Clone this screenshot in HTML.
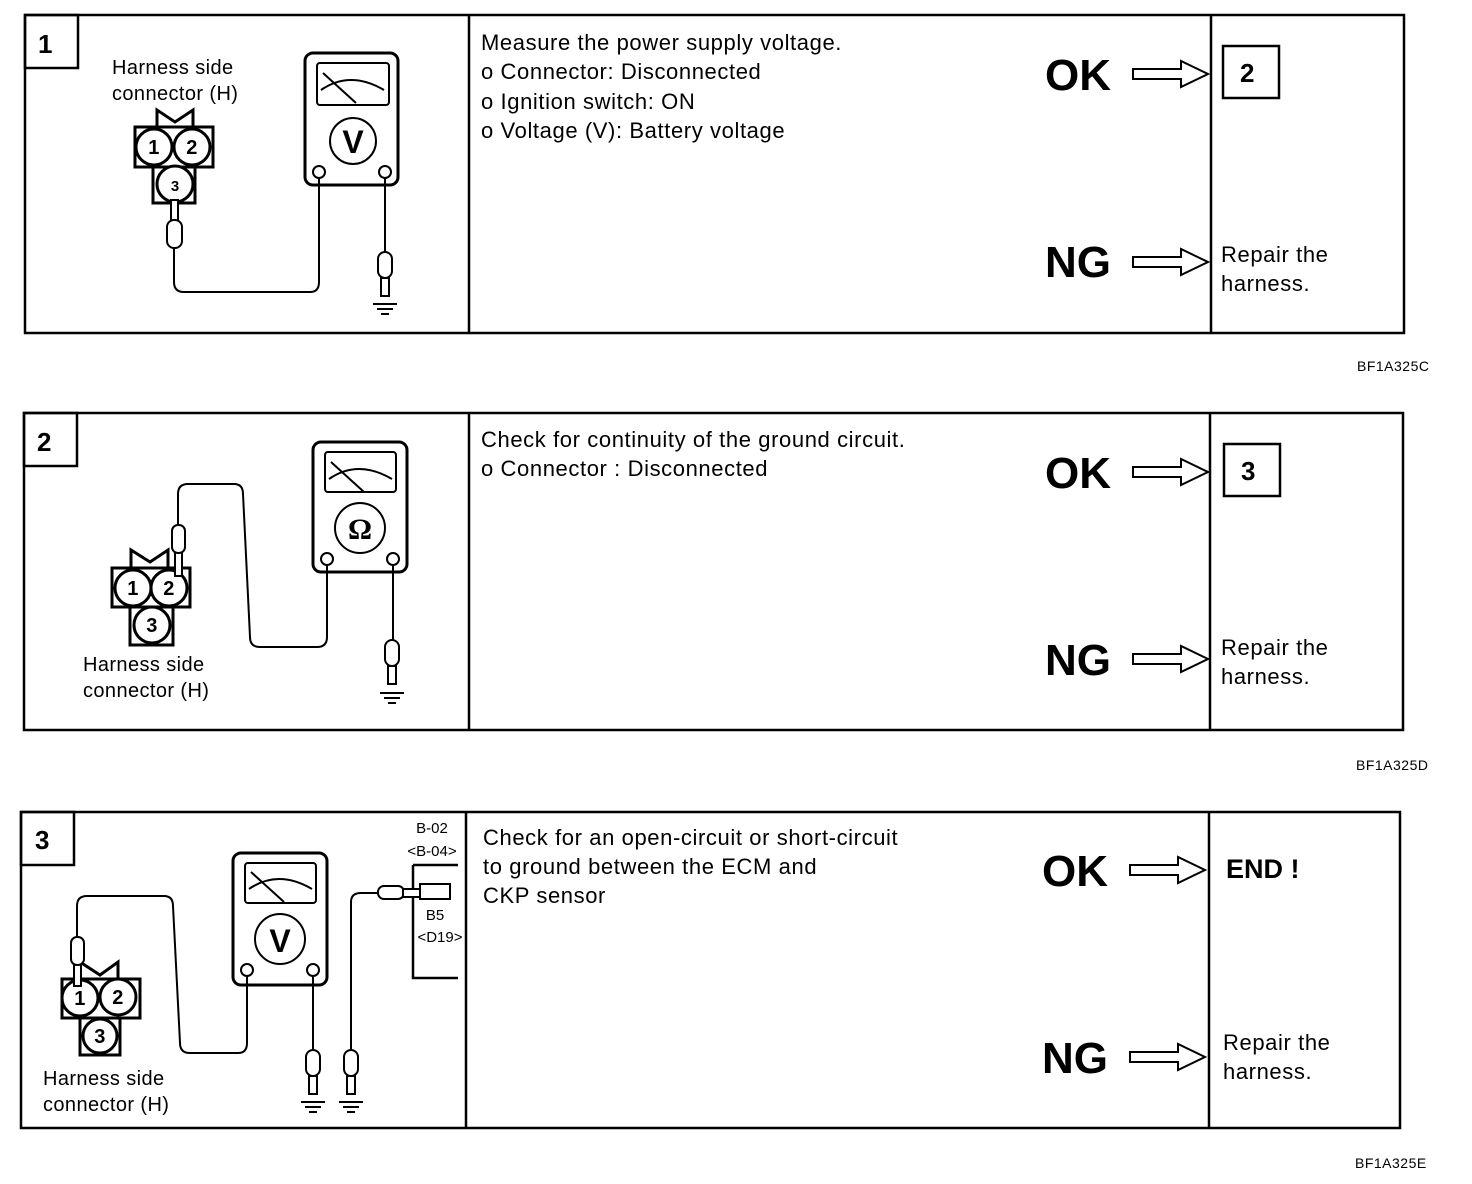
<!DOCTYPE html>
<html><head><meta charset="utf-8"><style>
html,body{margin:0;padding:0;background:#fff;}
svg{display:block;}
text{font-family:"Liberation Sans",Arial,sans-serif;fill:#000;}
.t{font-size:22px;letter-spacing:0.6px;}
.big{font-size:44px;font-weight:bold;}
.num{font-size:26px;font-weight:bold;}
.lab{font-size:20px;letter-spacing:0.4px;}
.sm{font-size:15px;}
.code{font-size:14px;letter-spacing:0.5px;}
</style></head><body>
<svg width="1472" height="1184" viewBox="0 0 1472 1184" xmlns="http://www.w3.org/2000/svg">
<defs>
<g id="arrow"><path d="M0,-5 H48 V-13 L75,0 L48,13 V5 H0 Z" fill="#fff" stroke="#000" stroke-width="2"/></g>
<g id="gnd"><line x1="-12" y1="0" x2="12" y2="0" stroke="#000" stroke-width="2"/><line x1="-8" y1="5" x2="8" y2="5" stroke="#000" stroke-width="2"/><line x1="-4" y1="10" x2="4" y2="10" stroke="#000" stroke-width="2"/></g>
<g id="probe"><rect x="-7" y="0" width="14" height="26" rx="7" fill="#fff" stroke="#000" stroke-width="2"/><rect x="-4" y="26" width="8" height="18" fill="#fff" stroke="#000" stroke-width="2"/></g>
</defs>
<g fill="none" stroke="#000" stroke-width="2.5">
<rect x="25" y="15" width="1379" height="318"/><line x1="469" y1="15" x2="469" y2="333"/><line x1="1211" y1="15" x2="1211" y2="333"/>
<rect x="24" y="413" width="1379" height="317"/><line x1="469" y1="413" x2="469" y2="730"/><line x1="1210" y1="413" x2="1210" y2="730"/>
<rect x="21" y="812" width="1379" height="316"/><line x1="466" y1="812" x2="466" y2="1128"/><line x1="1209" y1="812" x2="1209" y2="1128"/>
<rect x="25" y="15" width="53" height="53"/><rect x="24" y="413" width="53" height="53"/><rect x="21" y="812" width="53" height="53"/>
<rect x="1223" y="46" width="56" height="52"/><rect x="1224" y="444" width="56" height="52"/>
</g>
<text x="38" y="53" class="num">1</text><text x="37" y="451" class="num">2</text><text x="35" y="849" class="num">3</text>
<text x="1240" y="82" class="num">2</text><text x="1241" y="480" class="num">3</text>

<text x="481" y="50" class="t">Measure the power supply voltage.</text>
<text x="481" y="79" class="t">o Connector: Disconnected</text>
<text x="481" y="109" class="t">o Ignition switch: ON</text>
<text x="481" y="138" class="t">o Voltage (V): Battery voltage</text>
<text x="481" y="447" class="t">Check for continuity of the ground circuit.</text>
<text x="481" y="476" class="t">o Connector : Disconnected</text>
<text x="483" y="845" class="t">Check for an open-circuit or short-circuit</text>
<text x="483" y="874" class="t">to ground between the ECM and</text>
<text x="483" y="903" class="t">CKP sensor</text>

<text x="1045" y="90" class="big">OK</text><use href="#arrow" x="1133" y="74"/>
<text x="1045" y="277" class="big">NG</text><use href="#arrow" x="1133" y="262"/>
<text x="1221" y="262" class="t">Repair the</text><text x="1221" y="291" class="t">harness.</text>
<text x="1045" y="488" class="big">OK</text><use href="#arrow" x="1133" y="472"/>
<text x="1045" y="675" class="big">NG</text><use href="#arrow" x="1133" y="659"/>
<text x="1221" y="655" class="t">Repair the</text><text x="1221" y="684" class="t">harness.</text>
<text x="1042" y="886" class="big">OK</text><use href="#arrow" x="1130" y="870"/>
<text x="1226" y="878" style="font-size:27px;font-weight:bold">END !</text>
<text x="1042" y="1073" class="big">NG</text><use href="#arrow" x="1130" y="1057"/>
<text x="1223" y="1050" class="t">Repair the</text><text x="1223" y="1079" class="t">harness.</text>

<text x="1357" y="371" class="code">BF1A325C</text>
<text x="1356" y="770" class="code">BF1A325D</text>
<text x="1355" y="1168" class="code">BF1A325E</text>

<!-- Panel 1 diagram -->
<text x="112" y="74" class="lab">Harness side</text><text x="112" y="100" class="lab">connector (H)</text>
<g fill="#fff" stroke="#000" stroke-width="3">
<path d="M157,127 V110 L175,122 L193,110 V127" fill="none"/>
<rect x="135" y="127" width="78" height="40"/><rect x="153" y="167" width="42" height="36"/>
<circle cx="154" cy="147" r="18"/><circle cx="192" cy="147" r="18"/><circle cx="175" cy="184" r="18"/>
<rect x="305" y="53" width="93" height="132" rx="8"/><rect x="317" y="63" width="72" height="42" rx="3" stroke-width="2"/>
<circle cx="353" cy="141" r="23" stroke-width="2"/><circle cx="319" cy="172" r="6" stroke-width="2"/><circle cx="385" cy="172" r="6" stroke-width="2"/>
</g>
<text x="154" y="154" text-anchor="middle" class="lab" font-weight="bold">1</text><text x="192" y="154" text-anchor="middle" class="lab" font-weight="bold">2</text><text x="175" y="191" text-anchor="middle" class="sm" font-weight="bold">3</text>
<text x="353" y="153" text-anchor="middle" style="font-size:32px;font-weight:bold">V</text>
<g fill="none" stroke="#000" stroke-width="2"><path d="M323,73 L356,103 M321,90 Q350,70 384,90"/>
<path d="M174,248 V282 Q174,292 184,292 H310 Q319,292 319,282 V178"/><line x1="385" y1="178" x2="385" y2="252"/></g>
<g fill="#fff" stroke="#000" stroke-width="2"><rect x="171" y="200" width="7" height="22"/><rect x="167" y="220" width="15" height="28" rx="7"/></g>
<use href="#probe" x="385" y="252"/><use href="#gnd" x="385" y="304"/>

<!-- Panel 2 diagram -->
<text x="83" y="671" class="lab">Harness side</text><text x="83" y="697" class="lab">connector (H)</text>
<g fill="#fff" stroke="#000" stroke-width="3">
<path d="M131,568 V550 L150,562 L168,550 V568" fill="none"/>
<rect x="112" y="568" width="78" height="39"/><rect x="130" y="607" width="43" height="38"/>
<circle cx="133" cy="588" r="18"/><circle cx="169" cy="588" r="18"/><circle cx="152" cy="625" r="18"/>
<rect x="313" y="442" width="94" height="130" rx="8"/><rect x="325" y="452" width="71" height="40" rx="3" stroke-width="2"/>
<circle cx="360" cy="528" r="25" stroke-width="2"/><circle cx="327" cy="559" r="6" stroke-width="2"/><circle cx="393" cy="559" r="6" stroke-width="2"/>
</g>
<text x="133" y="595" text-anchor="middle" class="lab" font-weight="bold">1</text><text x="169" y="595" text-anchor="middle" class="lab" font-weight="bold">2</text><text x="152" y="632" text-anchor="middle" class="lab" font-weight="bold">3</text>
<text x="360" y="539" text-anchor="middle" style="font-family:'Liberation Serif',serif;font-size:30px;font-weight:bold">Ω</text>
<g fill="none" stroke="#000" stroke-width="2"><path d="M331,462 L364,492 M329,479 Q358,459 392,479"/>
<path d="M178,527 V494 Q178,484 188,484 H234 Q243,484 243,494 L250,637 Q250,647 260,647 H317 Q327,647 327,637 V565"/><line x1="393" y1="565" x2="393" y2="640"/></g>
<g fill="#fff" stroke="#000" stroke-width="2"><rect x="175" y="550" width="7" height="26"/><rect x="172" y="525" width="13" height="28" rx="6"/></g>
<use href="#probe" x="392" y="640"/><use href="#gnd" x="392" y="693"/>

<!-- Panel 3 diagram -->
<text x="43" y="1085" class="lab">Harness side</text><text x="43" y="1111" class="lab">connector (H)</text>
<g fill="#fff" stroke="#000" stroke-width="3">
<path d="M80,979 V962 L100,975 L118,962 V979" fill="none"/>
<rect x="62" y="979" width="78" height="39"/><rect x="80" y="1018" width="40" height="37"/>
<circle cx="80" cy="998" r="18"/><circle cx="118" cy="997" r="18"/><circle cx="100" cy="1036" r="17"/>
<rect x="233" y="853" width="94" height="132" rx="8"/><rect x="245" y="863" width="71" height="40" rx="3" stroke-width="2"/>
<circle cx="280" cy="939" r="25" stroke-width="2"/><circle cx="247" cy="970" r="6" stroke-width="2"/><circle cx="313" cy="970" r="6" stroke-width="2"/>
</g>
<text x="80" y="1005" text-anchor="middle" class="lab" font-weight="bold">1</text><text x="118" y="1004" text-anchor="middle" class="lab" font-weight="bold">2</text><text x="100" y="1043" text-anchor="middle" class="lab" font-weight="bold">3</text>
<text x="280" y="952" text-anchor="middle" style="font-size:32px;font-weight:bold">V</text>
<g fill="none" stroke="#000" stroke-width="2"><path d="M251,872 L284,902 M249,889 Q278,869 312,889"/>
<path d="M77,938 V906 Q77,896 87,896 H164 Q173,896 173,906 L180,1043 Q180,1053 190,1053 H238 Q247,1053 247,1043 V976"/>
<line x1="313" y1="976" x2="313" y2="1050"/>
<path d="M351,1050 V902 Q351,893 361,893 H378"/>
<path d="M413,865 H458 M413,865 V978 H458" stroke-width="2.5"/></g>
<g fill="#fff" stroke="#000" stroke-width="2"><rect x="74" y="960" width="7" height="26"/><rect x="71" y="937" width="13" height="28" rx="6"/>
<rect x="378" y="886" width="26" height="13" rx="6"/><rect x="403" y="889" width="20" height="8"/><rect x="420" y="884" width="30" height="15"/></g>
<use href="#probe" x="313" y="1050"/><use href="#gnd" x="313" y="1102"/>
<use href="#probe" x="351" y="1050"/><use href="#gnd" x="351" y="1102"/>
<text x="432" y="833" text-anchor="middle" class="sm">B-02</text>
<text x="432" y="856" text-anchor="middle" class="sm">&lt;B-04&gt;</text>
<text x="435" y="920" text-anchor="middle" class="sm">B5</text>
<text x="440" y="942" text-anchor="middle" class="sm">&lt;D19&gt;</text>
</svg>
</body></html>
